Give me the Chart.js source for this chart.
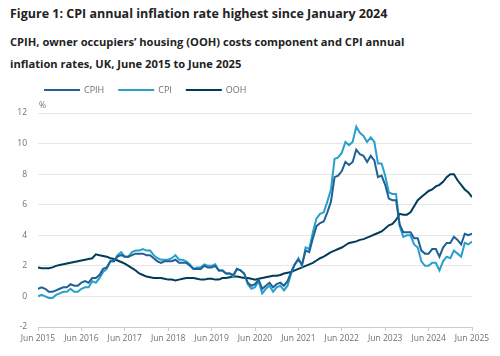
<!DOCTYPE html>
<html><head><meta charset="utf-8">
<script src="https://cdn.jsdelivr.net/npm/chart.js@4"></script>
<style>
html,body{margin:0;padding:0;background:#fff;width:500px;height:356px;overflow:hidden;font-family:"Open Sans",sans-serif;color:#222}
#t{position:absolute;left:10px;top:5px;font-size:12.5px;font-weight:700;line-height:18px;white-space:nowrap}
#s{position:absolute;left:10px;top:31px;font-size:11.15px;font-weight:700;line-height:22px;white-space:nowrap}
#c{position:absolute;left:0;top:78px;width:500px;height:278px}
</style></head><body>
<div id="t">Figure 1: CPI annual inflation rate highest since January 2024</div>
<div id="s">CPIH, owner occupiers’ housing (OOH) costs component and CPI annual<br>inflation rates, UK, June 2015 to June 2025</div>
<div id="c"><canvas id="cv"></canvas></div>
<script>
const tickLabels = ['Jun 2015','Jun 2016','Jun 2017','Jun 2018','Jun 2019','Jun 2020','Jun 2021','Jun 2022','Jun 2023','Jun 2024','Jun 2025'];
const seriesNames = ['CPIH','CPI','OOH'];
// Monthly, Jun 2015 .. Jun 2025
const cpih = [
0.5,0.6,0.5,0.3,0.3,0.4,0.5,
0.6,0.6,0.8,0.7,0.7,0.9,1.0,0.9,1.2,1.2,1.4,1.8,
1.9,2.3,2.3,2.6,2.7,2.6,2.6,2.7,2.8,2.8,2.8,2.7,
2.7,2.5,2.3,2.2,2.3,2.3,2.3,2.4,2.2,2.2,2.2,2.0,
1.8,1.8,1.8,2.0,1.9,1.9,2.0,1.7,1.7,1.5,1.5,1.4,
1.8,1.7,1.5,0.9,0.7,0.8,1.1,0.5,0.7,0.9,0.6,0.8,
0.9,0.7,1.0,1.6,2.1,2.4,2.1,3.0,2.9,3.8,4.6,4.8,
4.9,5.5,6.2,7.8,7.9,8.2,8.8,8.6,8.8,9.6,9.3,9.2,
8.8,9.2,8.9,7.8,7.9,7.3,6.4,6.3,6.3,4.7,4.2,4.2,
4.2,3.8,3.8,3.0,2.8,2.8,3.1,3.1,2.6,3.2,3.5,3.5,
3.9,3.7,3.4,4.1,4.0,4.1];
const cpi = [
0.0,0.1,0.0,-0.1,-0.1,0.1,0.2,
0.3,0.3,0.5,0.3,0.3,0.5,0.6,0.6,1.0,0.9,1.2,1.6,
1.8,2.3,2.3,2.7,2.9,2.6,2.6,2.9,3.0,3.0,3.1,3.0,
3.0,2.7,2.5,2.4,2.4,2.4,2.5,2.7,2.4,2.4,2.3,2.1,
1.8,1.9,1.9,2.1,2.0,2.0,2.1,1.7,1.7,1.5,1.5,1.3,
1.8,1.7,1.5,0.8,0.5,0.6,1.0,0.2,0.5,0.7,0.3,0.6,
0.7,0.4,0.7,1.5,2.1,2.5,2.0,3.2,3.1,4.2,5.1,5.4,
5.5,6.2,7.0,9.0,9.1,9.4,10.1,9.9,10.1,11.1,10.7,10.5,
10.1,10.4,10.1,8.7,8.7,7.9,6.8,6.7,6.7,4.6,3.9,4.0,
4.0,3.4,3.2,2.3,2.0,2.0,2.2,2.2,1.7,2.3,2.6,2.5,
3.0,2.8,2.6,3.5,3.4,3.6];
const ooh = [
1.9,1.85,1.85,1.85,1.9,2.0,2.05,
2.1,2.15,2.2,2.25,2.3,2.35,2.4,2.45,2.5,2.75,2.7,2.65,
2.6,2.5,2.45,2.35,2.25,2.15,2.0,1.85,1.7,1.5,1.4,1.3,
1.25,1.2,1.2,1.2,1.15,1.1,1.1,1.05,1.1,1.15,1.2,1.2,
1.2,1.15,1.1,1.1,1.15,1.15,1.1,1.1,1.2,1.2,1.25,1.3,
1.3,1.25,1.2,1.2,1.15,1.1,1.15,1.2,1.25,1.3,1.35,1.35,
1.4,1.5,1.55,1.6,1.7,1.8,1.9,2.0,2.1,2.2,2.35,2.5,
2.6,2.75,2.9,3.0,3.1,3.2,3.35,3.5,3.55,3.6,3.7,3.75,
3.85,3.95,4.05,4.15,4.25,4.45,4.65,4.75,5.0,5.4,5.35,5.35,
5.5,5.9,6.3,6.5,6.7,6.9,7.0,7.2,7.3,7.5,7.8,8.0,
8.0,7.6,7.3,7.0,6.8,6.5];
const colours = ['#206095','#27a0cc','#003c57'];

const toXY = arr => arr.map((v,i)=>({x:i,y:v}));
const FONT = '"Open Sans", sans-serif';
const extrasPlugin = {
  id:'extras',
  afterDraw(chart){
    const ctx = chart.ctx, a = chart.chartArea;
    ctx.save();
    // unit label
    ctx.font = '8.5px ' + FONT;
    ctx.fillStyle = '#707070';
    ctx.textAlign = 'left';
    ctx.textBaseline = 'middle';
    ctx.fillText('%', a.left + 1, a.top - 7);
    // legend
    ctx.font = '9px ' + FONT;
    let x = 44; const y = 12;
    chart.data.datasets.forEach(ds=>{
      ctx.strokeStyle = ds.borderColor;
      ctx.lineWidth = 2;
      ctx.beginPath(); ctx.moveTo(x, y); ctx.lineTo(x+36, y); ctx.stroke();
      ctx.fillStyle = '#707070';
      ctx.fillText(ds.label, x+40, y+0.5);
      x += 40 + ctx.measureText(ds.label).width + 14;
    });
    ctx.restore();
  }
};
new Chart(document.getElementById('cv'), {
  type:'line',
  data:{datasets:[cpih,cpi,ooh].map((d,i)=>({
    label:seriesNames[i], data:toXY(d), borderColor:colours[i], backgroundColor:colours[i],
    borderWidth:2, pointRadius:0, tension:0, fill:false
  }))},
  options:{
    responsive:true, maintainAspectRatio:false, animation:false,
    layout:{padding:{left:0,right:28,top:35,bottom:0}},
    plugins:{
      legend:{display:false},
      tooltip:{enabled:false}
    },
    scales:{
      x:{type:'linear', min:0, max:120,
        ticks:{stepSize:12, autoSkip:false, maxRotation:0, color:'#707070', font:{family:FONT,size:8.5}, padding:2,
          callback:v=>tickLabels[v/12]},
        grid:{display:true, drawOnChartArea:false, drawTicks:true, tickLength:4, color:'#cccccc'},
        border:{display:true, color:'#cccccc'},
        afterFit:s=>{s.height=29;}
      },
      y:{min:-2, max:12,
        ticks:{stepSize:2, color:'#707070', font:{family:FONT,size:8.5}, padding:11},
        grid:{color:'#e6e6e6', drawTicks:false},
        border:{display:false},
        afterFit:s=>{s.width=38;}
      }
    }
  },
  plugins:[extrasPlugin]
});
</script>
</body></html>
